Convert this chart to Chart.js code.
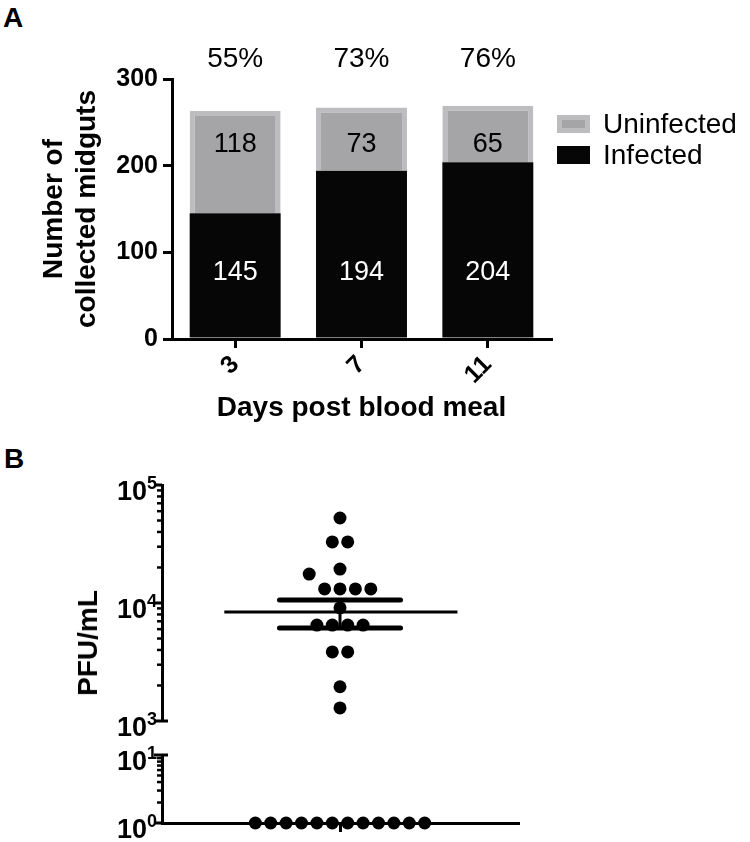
<!DOCTYPE html>
<html>
<head>
<meta charset="utf-8">
<script src="https://cdn.jsdelivr.net/npm/chart.js@4/dist/chart.umd.min.js"></script>
<style>
  html, body { margin: 0; padding: 0; background: #fff; overflow: hidden; }
  body { width: 750px; height: 842px; position: relative; font-family: "Liberation Sans", Arial, Helvetica, sans-serif; }
  canvas { position: absolute; left: 0; }
  .panel { position: absolute; font-weight: bold; font-size: 28px; line-height: 1; color: #000; }
  .ytitle { position: absolute; font-weight: bold; font-size: 28px; white-space: nowrap; transform: translate(-50%, -50%) rotate(-90deg); }
</style>
</head>
<body>
<div class="panel" style="left:3px;top:4px;">A</div>
<div class="panel" style="left:4px;top:445px;">B</div>
<canvas id="chartA" width="750" height="435" style="top:0"></canvas>
<canvas id="chartB1" width="750" height="300" style="top:440px"></canvas>
<canvas id="chartB2" width="750" height="102" style="top:740px"></canvas>
<div class="ytitle" style="left:88px;top:643px;">PFU/mL</div>
<script>
// ---------------- data: panel A ----------------
const days = ['3', '7', '11'];
const infected = [145, 194, 204];
const uninfected = [118, 73, 65];
const pctInfected = ['55%', '73%', '76%'];

// ---------------- data: panel B (PFU/mL per midgut) ----------------
// detectable titers, with their horizontal spread (in dot widths) as in the scatter
const pfuValues = [52500, 32900, 32900, 19400, 17600, 13150, 13150, 13150, 13150,
                   9100, 6500, 6500, 6500, 6500, 3850, 3850, 1950, 1290];
const pfuSpread = [0, -0.5, 0.5, 0, -2, -1, 0, 1, 2,
                   0, -1.5, -0.5, 0.5, 1.5, -0.5, 0.5, 0, 0];
// midguts below detection, plotted at 10^0
const zeroValues = [1, 1, 1, 1, 1, 1, 1, 1, 1, 1, 1, 1];
const zeroSpread = [-5.5, -4.5, -3.5, -2.5, -1.5, -0.5, 0.5, 1.5, 2.5, 3.5, 4.5, 5.5];
const pfuMean = 8390;
const pfuSemLow = 6140;
const pfuSemHigh = 10600;

Chart.defaults.font.family = '"Liberation Sans", Arial, Helvetica, sans-serif';
Chart.defaults.color = '#000';

const BLACK = '#060606';
const GRAY = '#a5a5a7';
const GRAY_EDGE = '#bdbdbf';

// numbers inside / above bars
const barText = {
  id: 'barText',
  afterDatasetsDraw(chart) {
    const { ctx, scales: { y } } = chart;
    const bars = chart.getDatasetMeta(0).data;
    ctx.save();
    ctx.textAlign = 'center';
    ctx.textBaseline = 'middle';
    bars.forEach((bar, i) => {
      ctx.font = '27px "Liberation Sans", Arial, sans-serif';
      ctx.fillStyle = '#fff';
      ctx.fillText(String(infected[i]), bar.x, y.getPixelForValue(77));
      ctx.fillStyle = '#000';
      ctx.fillText(String(uninfected[i]), bar.x, y.getPixelForValue(224));
      ctx.font = '28px "Liberation Sans", Arial, sans-serif';
      ctx.fillText(pctInfected[i], bar.x, y.getPixelForValue(323));
    });
    ctx.restore();
  }
};

// legend on the right of panel A (Uninfected on top)
const legendA = {
  id: 'legendA',
  afterDraw(chart) {
    const { ctx } = chart;
    const ds = chart.data.datasets.slice().reverse();
    ctx.save();
    ctx.font = '28px "Liberation Sans", Arial, sans-serif';
    ctx.textBaseline = 'middle';
    ds.forEach((d, i) => {
      const top = 115 + i * 31;
      const bw = d.borderWidth || 0;
      if (bw) {
        ctx.fillStyle = d.borderColor;
        ctx.fillRect(557, top, 33, 18);
      }
      ctx.fillStyle = d.backgroundColor;
      ctx.fillRect(557 + bw, top + bw, 33 - 2 * bw, 18 - 2 * bw);
      ctx.fillStyle = '#000';
      ctx.fillText(d.label, 603, top + 10);
    });
    ctx.restore();
  }
};

new Chart(document.getElementById('chartA'), {
  type: 'bar',
  data: {
    labels: days,
    datasets: [
      { label: 'Infected', data: infected, backgroundColor: BLACK, borderWidth: 0 },
      { label: 'Uninfected', data: uninfected, backgroundColor: GRAY, borderColor: GRAY_EDGE, borderWidth: 5 }
    ]
  },
  options: {
    responsive: false,
    animation: false,
    layout: { padding: { top: 79, right: 199, left: 0, bottom: 0 } },
    datasets: { bar: { barPercentage: 0.72, categoryPercentage: 1 } },
    plugins: { legend: { display: false }, tooltip: { enabled: false } },
    scales: {
      x: {
        stacked: true,
        grid: { drawOnChartArea: false, offset: false, tickLength: 9, lineWidth: 3, color: '#000' },
        border: { width: 3, color: '#000' },
        ticks: { minRotation: 45, maxRotation: 45, padding: 2, font: { size: 25, weight: 'bold' } },
        title: { display: true, text: 'Days post blood meal', font: { size: 28, weight: 'bold' }, padding: { top: 0, bottom: 10 } },
        afterFit: s => { s.height = 96; }
      },
      y: {
        stacked: true,
        min: 0,
        max: 300,
        ticks: { stepSize: 100, padding: 5, font: { size: 25, weight: 'bold' } },
        grid: { drawOnChartArea: false, tickLength: 9, lineWidth: 3, color: '#000' },
        border: { width: 3, color: '#000' },
        title: {
          display: true,
          text: ['Number of', 'collected midguts'],
          font: { size: 28, weight: 'bold', lineHeight: 1.18 },
          padding: { top: 38, bottom: 0 }
        },
        afterFit: s => { s.width = 172; }
      }
    }
  },
  plugins: [barText, legendA]
});

// ---------------- panel B helpers ----------------
const DOT_STEP = 0.0865; // one dot width in x-axis units

function spreadPoints(values, spread) {
  return values.map((v, i) => ({ x: spread[i] * DOT_STEP, y: v }));
}

function decadeTicks(scale) {
  const ticks = [];
  const e0 = Math.round(Math.log10(scale.min));
  const e1 = Math.round(Math.log10(scale.max));
  for (let e = e0; e < e1; e++) {
    for (let s = 1; s < 10; s++) ticks.push({ value: s * Math.pow(10, e) });
  }
  ticks.push({ value: Math.pow(10, e1) });
  scale.ticks = ticks;
}

// log axis ticks with 10^n labels
const logAxis = {
  id: 'logAxis',
  afterDraw(chart, args, opts) {
    const { ctx, scales: { y }, chartArea } = chart;
    const x0 = chartArea.left;
    ctx.save();
    ctx.strokeStyle = '#000';
    ctx.fillStyle = '#000';
    y.ticks.forEach(t => {
      const py = y.getPixelForValue(t.value);
      const exp = Math.log10(t.value);
      const major = Math.abs(exp - Math.round(exp)) < 1e-9;
      const e = Math.round(exp);
      ctx.lineWidth = major ? 3 : 2.5;
      const cap = major && (opts.caps || []).includes(e);
      ctx.beginPath();
      ctx.moveTo(x0 - (major ? 8 : 5), py);
      ctx.lineTo(cap ? x0 + 6 : x0, py);
      ctx.stroke();
      if (major) {
        ctx.textAlign = 'right';
        ctx.textBaseline = 'alphabetic';
        ctx.font = 'bold 18px "Liberation Sans", Arial, sans-serif';
        const sup = String(e);
        const supRight = x0 - 5;
        ctx.fillText(sup, supRight, py + 4);
        const w = ctx.measureText(sup).width;
        ctx.font = 'bold 27px "Liberation Sans", Arial, sans-serif';
        ctx.fillText('10', supRight - w, py + 15);
      }
    });
    ctx.restore();
  }
};

// upper part of panel B: 10^3 .. 10^5
new Chart(document.getElementById('chartB1'), {
  type: 'scatter',
  data: {
    datasets: [
      { data: spreadPoints(pfuValues, pfuSpread), backgroundColor: '#000', borderWidth: 0, pointRadius: 6.5, clip: false },
      { type: 'line', data: [{ x: -0.65, y: pfuMean }, { x: 0.66, y: pfuMean }], borderColor: '#000', borderWidth: 3, pointRadius: 0 },
      { type: 'line', data: [{ x: -0.34, y: pfuSemHigh }, { x: 0.34, y: pfuSemHigh }], borderColor: '#000', borderWidth: 5, borderCapStyle: 'round', pointRadius: 0 },
      { type: 'line', data: [{ x: -0.34, y: pfuSemLow }, { x: 0.34, y: pfuSemLow }], borderColor: '#000', borderWidth: 5, borderCapStyle: 'round', pointRadius: 0 },
      { type: 'line', data: [{ x: 0, y: pfuSemLow }, { x: 0, y: pfuSemHigh }], borderColor: '#000', borderWidth: 3, pointRadius: 0 }
    ]
  },
  options: {
    responsive: false,
    animation: false,
    layout: { padding: { top: 45, right: 232, left: 0, bottom: 19 } },
    plugins: { legend: { display: false }, tooltip: { enabled: false }, logAxis: { caps: [3] } },
    scales: {
      x: { type: 'linear', min: -1, max: 1, display: false },
      y: {
        type: 'logarithmic',
        min: 1000,
        max: 100000,
        ticks: { display: false },
        grid: { display: false },
        border: { width: 3, color: '#000' },
        afterBuildTicks: decadeTicks,
        afterFit: s => { s.width = 162; }
      }
    }
  },
  plugins: [logAxis]
});

// lower part of panel B: 10^0 .. 10^1
new Chart(document.getElementById('chartB2'), {
  type: 'scatter',
  data: {
    datasets: [
      { data: spreadPoints(zeroValues, zeroSpread), backgroundColor: '#000', borderWidth: 0, pointRadius: 6.5, clip: false }
    ]
  },
  options: {
    responsive: false,
    animation: false,
    layout: { padding: { top: 15, right: 232, left: 0, bottom: 0 } },
    plugins: { legend: { display: false }, tooltip: { enabled: false }, logAxis: { caps: [1] } },
    scales: {
      x: {
        type: 'linear',
        min: -1,
        max: 1,
        ticks: { callback: () => '' },
        grid: { drawOnChartArea: false, tickLength: 9, lineWidth: 3, color: '#000' },
        border: { width: 3, color: '#000' },
        afterBuildTicks: s => { s.ticks = [{ value: 0 }]; },
        afterFit: s => { s.height = 19; }
      },
      y: {
        type: 'logarithmic',
        min: 1,
        max: 10,
        ticks: { display: false },
        grid: { display: false },
        border: { width: 3, color: '#000' },
        afterBuildTicks: decadeTicks,
        afterFit: s => { s.width = 162; }
      }
    }
  },
  plugins: [logAxis]
});
</script>
</body>
</html>
